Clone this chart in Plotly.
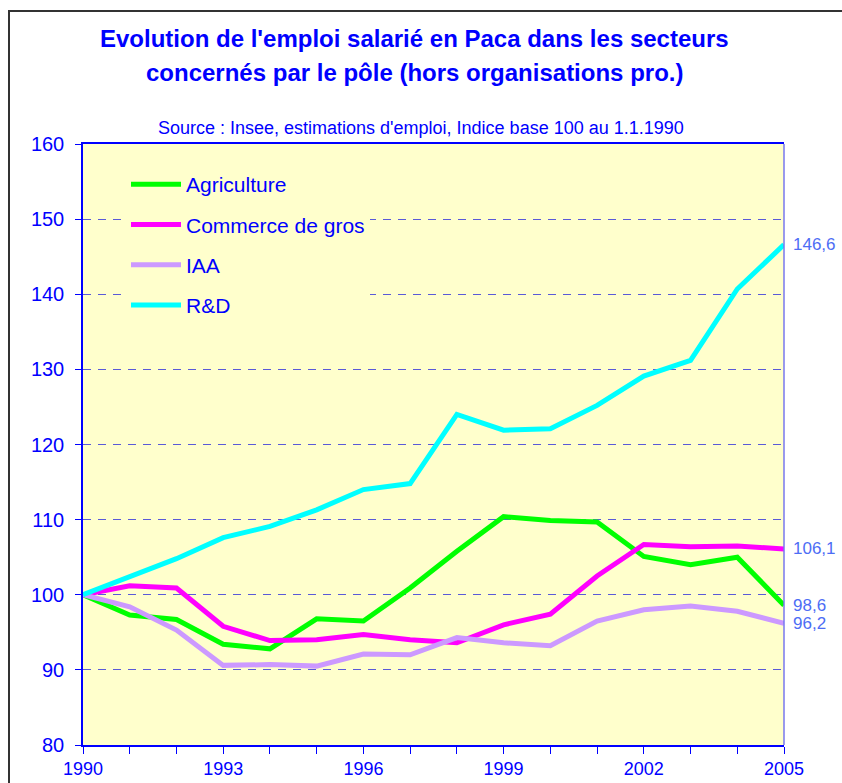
import plotly.graph_objects as go

years = list(range(1990, 2006))
agriculture = [100, 97.3, 96.7, 93.4, 92.8, 96.8, 96.5, 100.9, 105.8, 110.4, 109.9, 109.7, 105.1, 104.0, 105.0, 98.6]
commerce = [100, 101.2, 100.9, 95.8, 93.9, 94.0, 94.7, 94.0, 93.6, 96.0, 97.4, 102.5, 106.7, 106.4, 106.5, 106.1]
iaa = [100, 98.4, 95.3, 90.6, 90.7, 90.5, 92.1, 92.0, 94.3, 93.6, 93.2, 96.5, 98.0, 98.5, 97.8, 96.2]
rd = [100, 102.4, 104.8, 107.6, 109.1, 111.3, 114.0, 114.8, 124.0, 121.9, 122.1, 125.2, 129.1, 131.2, 140.7, 146.6]

series_names = ["Agriculture", "Commerce de gros", "IAA", "R&D"]
series_values = [agriculture, commerce, iaa, rd]
series_colors = ["#00ff00", "#ff00ff", "#cc99ff", "#00ffff"]

x_tick_vals = [1990, 1993, 1996, 1999, 2002, 2005]
y_tick_vals = [80, 90, 100, 110, 120, 130, 140, 150, 160]

title_line1 = "Evolution de l'emploi salarié en Paca dans les secteurs"
title_line2 = "concernés par le pôle (hors organisations pro.)"
subtitle = "Source : Insee, estimations d'emploi, Indice base 100 au 1.1.1990"

W, H = 842, 783
L, R, T, B = 83, 58, 144, 38
pw, ph = W - L - R, H - T - B


def px_x(p):
    # page pixel -> paper x
    return (p - L) / pw


def px_y(p):
    # page pixel -> paper y
    return (H - B - p) / ph


BLUE = "#0000ff"
FONT = "Liberation Sans, Arial, sans-serif"

fig = go.Figure()
for i, (name, vals, col) in enumerate(zip(series_names, series_values, series_colors)):
    fig.add_trace(go.Scatter(
        x=years, y=vals, name=name, mode="lines",
        line=dict(color=col, width=5), legendgroup=f"g{i}",
    ))

annotations = []
for vals in series_values:
    annotations.append(dict(
        x=years[-1], y=vals[-1], xref="x", yref="y",
        text=f"{vals[-1]:.1f}".replace(".", ","), showarrow=False,
        xanchor="left", yanchor="middle", xshift=7,
        font=dict(family=FONT, size=17, color="#4d6df5"),
    ))

annotations.append(dict(x=px_x(414), y=px_y(39), xref="paper", yref="paper", text=f"<b>{title_line1}</b>",
                        showarrow=False, xanchor="center", yanchor="middle",
                        font=dict(family=FONT, size=24, color=BLUE)))
annotations.append(dict(x=px_x(414), y=px_y(72), xref="paper", yref="paper", text=f"<b>{title_line2}</b>",
                        showarrow=False, xanchor="center", yanchor="middle",
                        font=dict(family=FONT, size=24, color=BLUE)))
annotations.append(dict(x=px_x(421), y=px_y(128), xref="paper", yref="paper", text=subtitle,
                        showarrow=False, xanchor="center", yanchor="middle",
                        font=dict(family=FONT, size=18, color=BLUE)))

shapes = [
    # outer frame
    dict(type="rect", xref="paper", yref="paper", x0=px_x(9), x1=px_x(880), y0=px_y(830), y1=px_y(11),
         line=dict(color="#333333", width=2), layer="below"),
    # right border of plot area
    dict(type="line", xref="paper", yref="paper", x0=1, x1=1, y0=0, y1=1,
         line=dict(color="#7777ee", width=1.5)),
]

fig.update_layout(
    width=W, height=H,
    margin=dict(l=L, r=R, t=T, b=B, autoexpand=False),
    paper_bgcolor="white", plot_bgcolor="#ffffcc",
    font=dict(family=FONT, color=BLUE),
    showlegend=True,
    legend=dict(
        x=px_x(126), y=px_y(164), xanchor="left", yanchor="top",
        bgcolor="#ffffcc", borderwidth=0,
        font=dict(family=FONT, size=21, color=BLUE),
        itemwidth=50, traceorder="grouped", tracegroupgap=10,
    ),
    xaxis=dict(
        range=[1990, 2005], tickmode="array", tickvals=x_tick_vals,
        ticks="outside", ticklen=7, tickcolor=BLUE, tickwidth=1,
        minor=dict(dtick=1, tick0=1990, ticks="outside", ticklen=7, tickcolor=BLUE, showgrid=False),
        showline=True, linecolor=BLUE, linewidth=1.5, mirror=True,
        showgrid=False, zeroline=False,
        tickfont=dict(family=FONT, size=18, color=BLUE),
    ),
    yaxis=dict(
        range=[80, 160], tickmode="array", tickvals=y_tick_vals,
        ticks="outside", ticklen=6, tickcolor=BLUE, tickwidth=1,
        ticklabelstandoff=7,
        showline=True, linecolor=BLUE, linewidth=1.5,
        showgrid=True, gridcolor="#5a5ad8", gridwidth=1, griddash="8px,7px",
        zeroline=False,
        tickfont=dict(family=FONT, size=20, color=BLUE),
    ),
    annotations=annotations,
    shapes=shapes,
)

fig.write_html(
    "out.html",
    config={"displayModeBar": False},
    post_script="document.body.style.margin='0';document.body.style.overflow='hidden';",
)
